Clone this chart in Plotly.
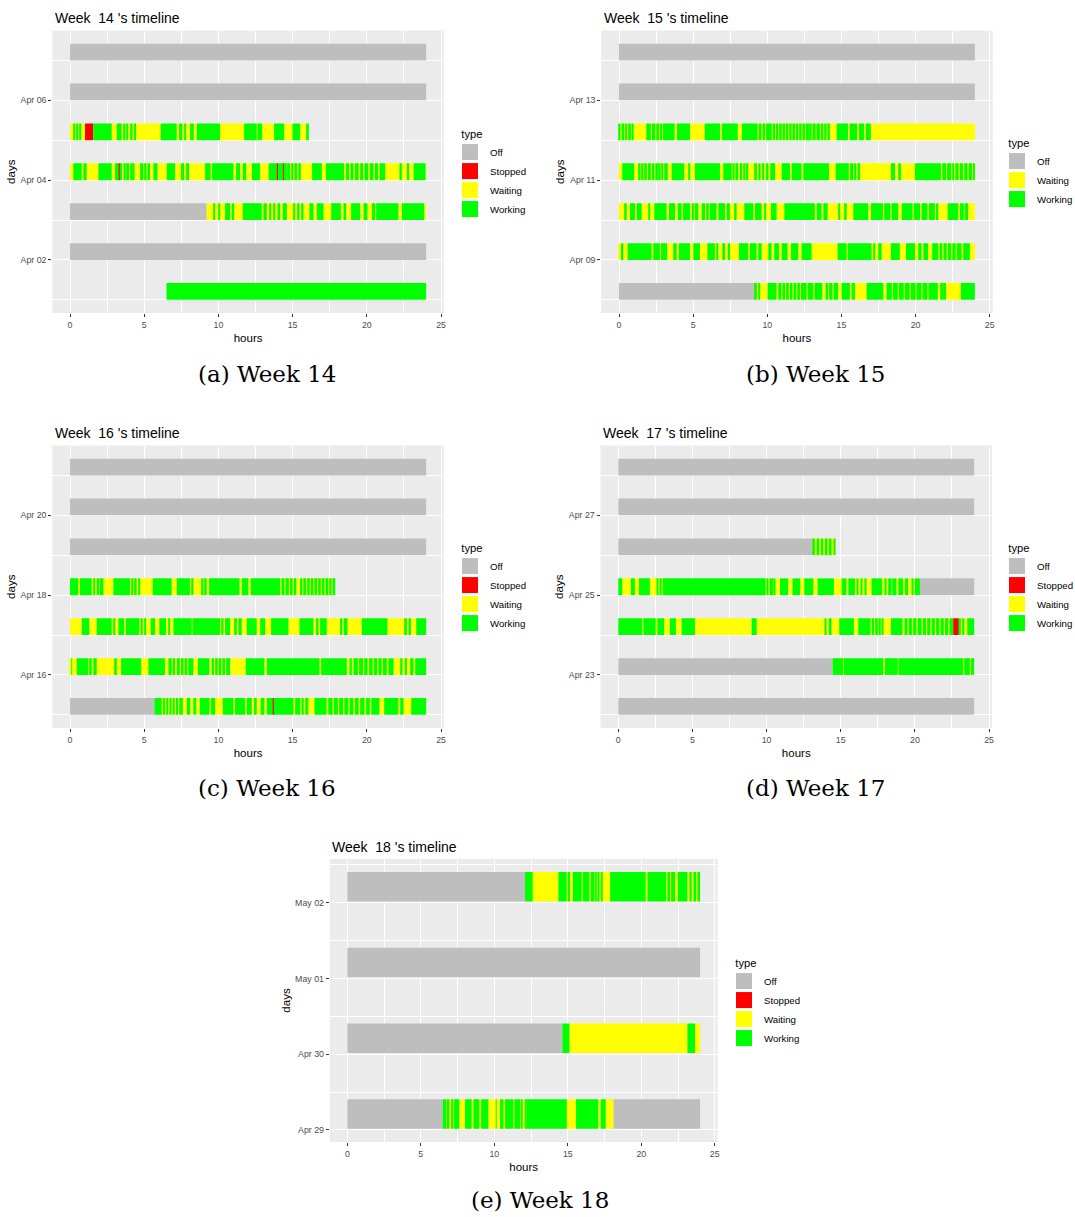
import plotly.graph_objects as go

# ---------------- data ----------------
# each day row: [start_hour, state, end_hour, state, end_hour, ...]
# state codes: O = Off, R = Stopped, Y = Waiting, G = Working
CODES = {"O": "Off", "R": "Stopped", "Y": "Waiting", "G": "Working"}
TYPES = ["Off", "Stopped", "Waiting", "Working"]

# Week 14
apr01 = [6.5, "G", 24]
apr02 = [0, "O", 24]
apr03 = [0, "O", 9.21, "Y", 9.66, "G", 9.78, "Y", 10.0, "G", 10.07, "Y", 10.45, "G", 10.79, "Y", 10.90,
         "G", 11.06, "Y", 11.64, "G", 12.92, "Y", 13.03, "G", 13.26, "Y", 13.44, "G", 13.55, "Y", 13.71,
         "G", 13.82, "Y", 13.98, "G", 14.16, "Y", 14.34, "G", 14.61, "Y", 15.06, "G", 15.17, "Y", 15.33,
         "G", 15.46, "Y", 15.62, "G", 15.73, "Y", 16.13, "G", 16.40, "Y", 16.63, "G", 17.08, "Y", 17.60,
         "G", 18.25, "Y", 18.43, "G", 18.61, "Y", 18.94, "G", 19.55, "Y", 19.78, "G", 20.04, "Y", 20.34,
         "G", 20.56, "Y", 20.63, "G", 22.13, "Y", 22.36, "G", 23.87, "Y", 24]
apr04 = [0, "Y", 0.22, "G", 0.79, "Y", 0.90, "G", 1.12, "Y", 1.91, "G", 2.81, "Y", 3.03, "G", 3.26,
         "R", 3.35, "G", 3.50, "Y", 3.60, "G", 3.75, "Y", 3.85, "G", 3.98, "Y", 4.06, "G", 4.15,
         "Y", 4.22, "G", 4.35, "Y", 4.72, "G", 4.94, "Y", 5.02, "G", 5.15, "Y", 5.22, "G", 5.39,
         "Y", 5.62, "G", 5.89, "Y", 6.52, "G", 7.08, "Y", 7.48, "G", 7.69, "Y", 7.82, "G", 8.02,
         "Y", 9.10, "G", 9.48, "Y", 9.57, "G", 11.01, "Y", 11.19, "G", 11.46, "Y", 11.64, "G", 11.87,
         "Y", 12.25, "G", 12.81, "Y", 13.39, "G", 13.93, "R", 14.02, "G", 14.34, "R", 14.40, "G", 14.61,
         "Y", 14.70, "G", 14.83, "Y", 14.92, "G", 15.05, "Y", 15.12, "G", 15.30, "Y", 15.38, "G", 15.55,
         "Y", 16.31, "G", 16.97, "Y", 17.24, "G", 18.47, "Y", 18.60, "G", 18.80, "Y", 18.90, "G", 19.10,
         "Y", 19.20, "G", 19.45, "Y", 19.55, "G", 19.75, "Y", 19.85, "G", 20.10, "Y", 20.20, "G", 20.45,
         "Y", 20.55, "G", 20.75, "Y", 20.85, "G", 21.24, "Y", 22.20, "G", 22.36, "Y", 22.70, "G", 22.85,
         "Y", 23.15, "G", 23.96, "Y", 24]
apr05 = [0, "Y", 0.22, "G", 0.31, "Y", 0.45, "G", 0.56, "Y", 0.67, "G", 0.76, "Y", 1.01, "R", 1.57,
         "G", 2.81, "Y", 3.15, "G", 3.48, "Y", 3.60, "G", 3.73, "Y", 3.82, "G", 3.93, "Y", 4.09,
         "G", 4.22, "Y", 4.31, "G", 4.45, "Y", 6.11, "G", 7.19, "Y", 7.35, "G", 7.57, "Y", 7.75,
         "G", 7.82, "Y", 8.09, "G", 8.34, "Y", 8.54, "G", 10.11, "Y", 11.73, "G", 12.58, "Y", 12.63,
         "G", 12.94, "Y", 13.75, "G", 14.43, "Y", 14.99, "G", 15.51, "Y", 15.96, "G", 16.09]
apr06 = [0, "O", 24]
apr07 = [0, "O", 24]

# Week 15
apr08 = [0, "O", 9.17, "G", 9.30, "Y", 9.40, "G", 9.50, "Y", 10.02, "G", 10.63, "Y", 10.74, "G", 10.95,
         "Y", 11.02, "G", 11.20, "Y", 11.27, "G", 11.45, "Y", 11.52, "G", 11.70, "Y", 11.77, "G", 11.95,
         "Y", 12.02, "G", 12.20, "Y", 12.27, "G", 12.65, "Y", 12.72, "G", 13.10, "Y", 13.18, "G", 13.71,
         "Y", 13.93, "G", 14.10, "Y", 14.17, "G", 14.40, "Y", 14.47, "G", 14.78, "Y", 15.01, "G", 15.57,
         "Y", 15.68, "G", 15.91, "Y", 16.70, "G", 17.82, "Y", 18.04, "G", 18.40, "Y", 18.47, "G", 18.80,
         "Y", 18.87, "G", 19.20, "Y", 19.27, "G", 19.60, "Y", 19.67, "G", 20.00, "Y", 20.07, "G", 20.40,
         "Y", 20.47, "G", 20.80, "Y", 20.87, "G", 21.50, "Y", 21.72, "G", 21.85, "Y", 21.92, "G", 22.05,
         "Y", 23.05, "G", 24]
apr09 = [0, "Y", 0.13, "G", 0.29, "Y", 0.58, "G", 2.20, "Y", 2.31, "G", 2.76, "Y", 2.83, "G", 3.24,
         "Y", 3.66, "G", 3.89, "Y", 4.04, "G", 4.79, "Y", 5.01, "G", 5.46, "Y", 5.96, "G", 6.47,
         "Y", 6.58, "G", 6.70, "Y", 6.97, "G", 7.15, "Y", 7.33, "G", 7.48, "Y", 8.09, "G", 8.72,
         "Y", 8.83, "G", 9.28, "Y", 9.39, "G", 9.62, "Y", 10.07, "G", 10.29, "Y", 10.47, "G", 10.79,
         "Y", 10.97, "G", 11.37, "Y", 11.60, "G", 12.09, "Y", 12.31, "G", 12.99, "Y", 14.74, "G", 15.35,
         "Y", 15.42, "G", 17.03, "Y", 17.15, "G", 17.26, "Y", 17.48, "G", 17.71, "Y", 18.34, "G", 18.94,
         "Y", 19.35, "G", 19.96, "Y", 20.18, "G", 20.40, "Y", 20.52, "G", 20.85, "Y", 21.12, "G", 21.53,
         "Y", 21.62, "G", 21.80, "Y", 21.88, "G", 22.10, "Y", 22.18, "G", 22.40, "Y", 22.48, "G", 22.70,
         "Y", 22.78, "G", 23.10, "Y", 23.21, "G", 23.66, "Y", 24]
apr10 = [0, "Y", 0.40, "G", 0.52, "Y", 0.74, "G", 1.08, "Y", 1.19, "G", 1.53, "Y", 1.98, "G", 2.09,
         "Y", 2.38, "G", 3.21, "Y", 3.37, "G", 3.78, "Y", 3.96, "G", 4.22, "Y", 4.31, "G", 4.79,
         "Y", 4.90, "G", 5.05, "Y", 5.12, "G", 5.35, "Y", 5.57, "G", 5.80, "Y", 5.88, "G", 6.05,
         "Y", 6.12, "G", 6.58, "Y", 6.70, "G", 7.15, "Y", 7.26, "G", 7.48, "Y", 7.82, "G", 7.93,
         "Y", 8.45, "G", 9.06, "Y", 9.17, "G", 9.62, "Y", 9.80, "G", 9.89, "Y", 10.25, "G", 10.63,
         "Y", 11.15, "G", 13.21, "Y", 13.33, "G", 13.66, "Y", 13.78, "G", 14.07, "Y", 14.79, "G", 14.90,
         "Y", 15.24, "G", 15.35, "Y", 15.80, "G", 16.81, "Y", 16.99, "G", 17.80, "Y", 17.88, "G", 18.30,
         "Y", 18.38, "G", 18.83, "Y", 19.06, "G", 19.80, "Y", 19.88, "G", 20.30, "Y", 20.40, "G", 20.80,
         "Y", 20.90, "G", 21.30, "Y", 21.38, "G", 21.53, "Y", 22.16, "G", 22.88, "Y", 22.99, "G", 23.25,
         "Y", 23.32, "G", 23.55, "Y", 24]
apr11 = [0, "Y", 0.22, "G", 1.03, "Y", 1.35, "G", 1.45, "Y", 1.55, "G", 1.65, "Y", 1.75, "G", 1.88,
         "Y", 1.95, "G", 2.15, "Y", 2.22, "G", 2.38, "Y", 2.45, "G", 2.62, "Y", 2.68, "G", 2.80,
         "Y", 2.86, "G", 2.98, "Y", 3.05, "G", 3.29, "Y", 3.55, "G", 4.40, "Y", 4.67, "G", 4.79,
         "Y", 5.12, "G", 6.81, "Y", 7.03, "G", 7.60, "Y", 7.66, "G", 7.80, "Y", 7.86, "G", 8.04,
         "Y", 8.15, "G", 8.30, "Y", 8.38, "G", 8.50, "Y", 8.56, "G", 8.72, "Y", 9.17, "G", 9.30,
         "Y", 9.40, "G", 9.55, "Y", 9.65, "G", 9.80, "Y", 9.92, "G", 10.08, "Y", 10.20, "G", 10.52,
         "Y", 10.97, "G", 11.53, "Y", 11.64, "G", 12.31, "Y", 12.43, "G", 14.16, "Y", 14.61, "G", 15.50,
         "Y", 15.58, "G", 15.80, "Y", 15.88, "G", 16.00, "Y", 16.08, "G", 16.25, "Y", 18.34, "G", 18.61,
         "Y", 18.83, "G", 19.01, "Y", 19.96, "G", 21.71, "Y", 21.80, "G", 22.05, "Y", 22.12, "G", 22.40,
         "Y", 22.48, "G", 22.60, "Y", 22.68, "G", 22.90, "Y", 22.98, "G", 23.20, "Y", 23.28, "G", 23.50,
         "Y", 23.58, "G", 23.80, "Y", 23.86, "G", 24]
apr12 = [0, "G", 0.10, "Y", 0.18, "G", 0.35, "Y", 0.42, "G", 0.55, "Y", 0.62, "G", 0.80, "Y", 0.85,
         "G", 0.99, "Y", 1.84, "G", 2.15, "Y", 2.22, "G", 2.45, "Y", 2.52, "G", 2.70, "Y", 2.76,
         "G", 2.90, "Y", 2.96, "G", 3.75, "Y", 3.91, "G", 4.79, "Y", 5.78, "G", 6.81, "Y", 6.93,
         "G", 8.01, "Y", 8.28, "G", 9.35, "Y", 9.42, "G", 9.60, "Y", 9.68, "G", 9.85, "Y", 9.92,
         "G", 10.30, "Y", 10.37, "G", 10.52, "Y", 10.58, "G", 10.74, "Y", 10.80, "G", 10.97, "Y", 11.03,
         "G", 11.19, "Y", 11.25, "G", 11.42, "Y", 11.48, "G", 11.64, "Y", 11.70, "G", 11.87, "Y", 11.93,
         "G", 12.09, "Y", 12.15, "G", 12.31, "Y", 12.37, "G", 12.54, "Y", 12.60, "G", 12.81, "Y", 12.87,
         "G", 12.99, "Y", 13.05, "G", 13.26, "Y", 13.32, "G", 13.55, "Y", 13.61, "G", 13.78, "Y", 13.84,
         "G", 14.00, "Y", 14.06, "G", 14.22, "Y", 14.68, "G", 15.44, "Y", 15.55, "G", 16.06, "Y", 16.18,
         "G", 16.52, "Y", 16.64, "G", 16.98, "Y", 24]
apr13 = [0, "O", 24]
apr14 = [0, "O", 24]

# Week 16
apr15 = [0, "O", 5.69, "G", 6.18, "Y", 6.26, "G", 6.40, "Y", 6.48, "G", 6.62, "Y", 6.70, "G", 6.84,
         "Y", 6.92, "G", 7.06, "Y", 7.14, "G", 7.28, "Y", 7.36, "G", 7.60, "Y", 7.87, "G", 8.10,
         "Y", 8.31, "G", 8.50, "Y", 8.74, "G", 9.40, "Y", 9.50, "G", 9.78, "Y", 10.29, "G", 11.01,
         "Y", 11.12, "G", 11.80, "Y", 11.91, "G", 12.25, "Y", 12.40, "G", 12.58, "Y", 12.85, "G", 13.10,
         "Y", 13.26, "G", 13.64, "R", 13.73, "G", 15.06, "Y", 15.17, "G", 15.51, "Y", 15.59, "G", 15.75,
         "Y", 15.85, "G", 16.06, "Y", 16.47, "G", 17.29, "Y", 17.40, "G", 17.70, "Y", 17.78, "G", 18.05,
         "Y", 18.13, "G", 18.40, "Y", 18.48, "G", 18.75, "Y", 18.83, "G", 19.10, "Y", 19.20, "G", 19.45,
         "Y", 19.55, "G", 19.85, "Y", 19.95, "G", 20.20, "Y", 20.30, "G", 20.85, "Y", 21.17, "G", 22.13,
         "Y", 22.25, "G", 22.47, "Y", 22.99, "G", 24]
apr16 = [0, "Y", 0.08, "G", 0.14, "Y", 0.45, "G", 1.24, "Y", 1.35, "G", 1.46, "Y", 1.57, "G", 1.80,
         "Y", 3.03, "G", 3.15, "Y", 3.44, "G", 4.79, "Y", 5.28, "G", 6.40, "Y", 6.63, "G", 6.85,
         "Y", 6.92, "G", 7.08, "Y", 7.20, "G", 7.40, "Y", 7.48, "G", 7.65, "Y", 7.72, "G", 7.90,
         "Y", 7.97, "G", 8.31, "Y", 8.61, "G", 9.39, "Y", 9.55, "G", 9.70, "Y", 9.78, "G", 9.95,
         "Y", 10.02, "G", 10.20, "Y", 10.27, "G", 10.45, "Y", 10.52, "G", 10.79, "Y", 11.84, "G", 13.10,
         "Y", 13.26, "G", 16.81, "Y", 16.92, "G", 18.65, "Y", 18.83, "G", 18.99, "Y", 19.10, "G", 19.40,
         "Y", 19.47, "G", 19.75, "Y", 19.82, "G", 20.05, "Y", 20.15, "G", 20.40, "Y", 20.47, "G", 20.70,
         "Y", 20.78, "G", 21.00, "Y", 21.08, "G", 21.35, "Y", 21.45, "G", 21.80, "Y", 22.25, "G", 22.40,
         "Y", 22.56, "G", 22.70, "Y", 22.92, "G", 23.14, "Y", 23.26, "G", 24]
apr17 = [0, "Y", 0.79, "G", 1.30, "Y", 1.80, "G", 2.81, "Y", 2.92, "G", 3.03, "Y", 3.26, "G", 3.64,
         "Y", 3.75, "G", 4.67, "Y", 4.76, "G", 4.90, "Y", 5.06, "G", 5.12, "Y", 5.44, "G", 5.73,
         "Y", 6.02, "G", 6.47, "Y", 6.63, "G", 6.74, "Y", 6.97, "G", 8.20, "Y", 8.25, "G", 10.11,
         "Y", 10.22, "G", 10.34, "Y", 10.45, "G", 10.79, "Y", 11.06, "G", 11.24, "Y", 11.35, "G", 11.57,
         "Y", 11.91, "G", 12.58, "Y", 12.81, "G", 13.15, "Y", 13.55, "G", 14.72, "Y", 15.46, "G", 16.40,
         "Y", 16.58, "G", 16.74, "Y", 16.85, "G", 17.30, "Y", 18.20, "G", 18.35, "Y", 18.45, "G", 18.70,
         "Y", 19.66, "G", 21.39, "Y", 22.58, "G", 22.70, "Y", 22.81, "G", 22.97, "Y", 23.33, "G", 24]
apr18 = [0, "G", 0.56, "Y", 0.67, "G", 1.46, "Y", 1.57, "G", 1.69, "Y", 1.80, "G", 1.98, "Y", 2.02,
         "G", 2.25, "Y", 2.92, "G", 4.04, "Y", 4.16, "G", 4.27, "Y", 4.38, "G", 4.49, "Y", 4.61,
         "G", 4.72, "Y", 5.57, "G", 6.85, "Y", 7.19, "G", 8.09, "Y", 8.20, "G", 8.31, "Y", 8.88,
         "G", 8.99, "Y", 9.10, "G", 9.21, "Y", 9.37, "G", 11.42, "Y", 11.57, "G", 12.02, "Y", 12.18,
         "G", 14.16, "Y", 14.25, "G", 14.45, "Y", 14.52, "G", 14.75, "Y", 14.82, "G", 15.00, "Y", 15.08,
         "G", 15.25, "Y", 15.50, "G", 15.65, "Y", 15.72, "G", 15.90, "Y", 15.98, "G", 16.15, "Y", 16.22,
         "G", 16.40, "Y", 16.47, "G", 16.65, "Y", 16.72, "G", 16.90, "Y", 16.97, "G", 17.15, "Y", 17.22,
         "G", 17.40, "Y", 17.47, "G", 17.62, "Y", 17.69, "G", 17.87]
apr19 = [0, "O", 24]
apr20 = [0, "O", 24]
apr21 = [0, "O", 24]

# Week 17
apr22 = [0, "O", 24]
apr23 = [0, "O", 14.45, "G", 15.17, "Y", 15.22, "G", 17.87, "Y", 17.98, "G", 18.85, "Y", 18.90,
         "G", 23.26, "Y", 23.33, "G", 23.71, "Y", 23.78, "G", 24]
apr24 = [0, "G", 1.61, "Y", 1.69, "G", 2.52, "Y", 2.63, "G", 3.10, "Y", 3.48, "G", 3.89, "Y", 4.27,
         "G", 5.17, "Y", 8.99, "G", 9.33, "Y", 13.93, "G", 14.04, "Y", 14.20, "G", 14.38, "Y", 14.90,
         "G", 15.89, "Y", 16.18, "G", 17.01, "Y", 17.09, "G", 17.25, "Y", 17.32, "G", 17.50, "Y", 17.57,
         "G", 17.70, "Y", 17.76, "G", 17.87, "Y", 18.38, "G", 19.17, "Y", 19.30, "G", 19.50, "Y", 19.58,
         "G", 19.80, "Y", 19.88, "G", 20.10, "Y", 20.18, "G", 20.45, "Y", 20.53, "G", 20.75, "Y", 20.83,
         "G", 21.05, "Y", 21.13, "G", 21.35, "Y", 21.43, "G", 21.65, "Y", 21.73, "G", 21.95, "Y", 22.03,
         "G", 22.25, "Y", 22.33, "G", 22.58, "R", 22.97, "G", 23.10, "Y", 23.19, "G", 23.33, "Y", 23.53,
         "G", 24]
apr25 = [0, "G", 0.27, "Y", 0.85, "G", 1.12, "Y", 1.39, "G", 2.13, "Y", 2.58, "G", 2.70, "Y", 2.81,
         "G", 2.92, "Y", 2.99, "G", 9.93, "Y", 10.04, "G", 10.11, "Y", 10.20, "G", 10.45, "Y", 10.52,
         "G", 10.60, "Y", 10.90, "G", 11.46, "Y", 11.75, "G", 12.27, "Y", 12.54, "G", 13.15, "Y", 13.44,
         "G", 14.54, "Y", 15.06, "G", 15.39, "Y", 15.51, "G", 15.96, "Y", 16.07, "G", 16.18, "Y", 16.36,
         "G", 16.45, "Y", 16.63, "G", 16.74, "Y", 17.08, "G", 17.80, "Y", 17.98, "G", 18.09, "Y", 18.20,
         "G", 18.43, "Y", 18.47, "G", 18.76, "Y", 18.88, "G", 19.21, "Y", 19.33, "G", 19.55, "Y", 19.78,
         "G", 19.89, "Y", 20.00, "G", 20.34, "O", 24]
apr26 = [0, "O", 13.08, "G", 13.26, "Y", 13.37, "G", 13.55, "Y", 13.66, "G", 13.82, "Y", 13.93,
         "G", 14.11, "Y", 14.20, "G", 14.38, "Y", 14.56, "G", 14.65]
apr27 = [0, "O", 24]
apr28 = [0, "O", 24]

# Week 18
apr29 = [0, "O", 6.49, "G", 6.72, "Y", 6.81, "G", 6.94, "Y", 7.06, "G", 7.21, "Y", 7.26, "G", 7.62,
         "Y", 8.01, "G", 8.46, "Y", 8.58, "G", 8.98, "Y", 9.10, "G", 9.60, "Y", 10.10, "G", 10.16,
         "Y", 10.39, "G", 10.62, "Y", 10.73, "G", 11.30, "Y", 11.37, "G", 11.75, "Y", 11.86, "G", 11.93,
         "Y", 12.09, "G", 12.14, "Y", 12.20, "G", 14.93, "Y", 15.56, "G", 17.08, "Y", 17.24, "G", 17.58,
         "Y", 18.10, "O", 24]
apr30 = [0, "O", 14.63, "G", 15.11, "Y", 23.14, "G", 23.66, "Y", 24]
may01 = [0, "O", 24]
may02 = [0, "O", 12.09, "G", 12.61, "Y", 14.36, "G", 14.93, "Y", 15.00, "G", 15.15, "Y", 15.34,
         "G", 15.95, "Y", 16.02, "G", 16.47, "Y", 16.56, "G", 16.79, "Y", 16.86, "G", 16.97, "Y", 17.01,
         "G", 17.15, "Y", 17.24, "G", 17.31, "Y", 17.88, "G", 20.30, "Y", 20.42, "G", 21.69, "Y", 21.78,
         "G", 21.96, "Y", 22.03, "G", 22.30, "Y", 22.48, "G", 23.14, "Y", 23.28, "G", 23.43, "Y", 23.55,
         "G", 23.73, "Y", 23.82, "G", 24]

week14_days = ["Apr 01", "Apr 02", "Apr 03", "Apr 04", "Apr 05", "Apr 06", "Apr 07"]
week14_rows = [apr01, apr02, apr03, apr04, apr05, apr06, apr07]
week14_ticks = ["Apr 02", "Apr 04", "Apr 06"]
week14_legend = ["Off", "Stopped", "Waiting", "Working"]

week15_days = ["Apr 08", "Apr 09", "Apr 10", "Apr 11", "Apr 12", "Apr 13", "Apr 14"]
week15_rows = [apr08, apr09, apr10, apr11, apr12, apr13, apr14]
week15_ticks = ["Apr 09", "Apr 11", "Apr 13"]
week15_legend = ["Off", "Waiting", "Working"]

week16_days = ["Apr 15", "Apr 16", "Apr 17", "Apr 18", "Apr 19", "Apr 20", "Apr 21"]
week16_rows = [apr15, apr16, apr17, apr18, apr19, apr20, apr21]
week16_ticks = ["Apr 16", "Apr 18", "Apr 20"]
week16_legend = ["Off", "Stopped", "Waiting", "Working"]

week17_days = ["Apr 22", "Apr 23", "Apr 24", "Apr 25", "Apr 26", "Apr 27", "Apr 28"]
week17_rows = [apr22, apr23, apr24, apr25, apr26, apr27, apr28]
week17_ticks = ["Apr 23", "Apr 25", "Apr 27"]
week17_legend = ["Off", "Stopped", "Waiting", "Working"]

week18_days = ["Apr 29", "Apr 30", "May 01", "May 02"]
week18_rows = [apr29, apr30, may01, may02]
week18_ticks = ["Apr 29", "Apr 30", "May 01", "May 02"]
week18_legend = ["Off", "Stopped", "Waiting", "Working"]

x_ticks = [0, 5, 10, 15, 20, 25]

# ---------------- style / layout ----------------
W, H = 1075, 1217
COLORS = {"Off": "#BEBEBE", "Stopped": "#FF0000", "Waiting": "#FFFF00", "Working": "#00FF00"}
SANS = "Liberation Sans, Arial, sans-serif"
SERIF = "DejaVu Serif, serif"
BAR_SHIFT = 0.21

PANELS = [
    dict(week="14", days=week14_days, rows=week14_rows, ticks=week14_ticks, legend=week14_legend,
         caption="(a) Week 14", box=(52.2, 444.0, 30.5, 313.0), yr=(-0.33, 6.75), bw=0.42,
         leg=(450, 123), cap=(267, 374), minor_y="days"),
    dict(week="15", days=week15_days, rows=week15_rows, ticks=week15_ticks, legend=week15_legend,
         caption="(b) Week 15", box=(601.2, 992.7, 30.5, 313.0), yr=(-0.33, 6.75), bw=0.42,
         leg=(997, 132), cap=(815, 374), minor_y="days"),
    dict(week="16", days=week16_days, rows=week16_rows, ticks=week16_ticks, legend=week16_legend,
         caption="(c) Week 16", box=(52.2, 444.0, 445.5, 728.0), yr=(-0.33, 6.75), bw=0.42,
         leg=(450, 537), cap=(267, 788), minor_y="days"),
    dict(week="17", days=week17_days, rows=week17_rows, ticks=week17_ticks, legend=week17_legend,
         caption="(d) Week 17", box=(600.5, 992.0, 445.5, 728.0), yr=(-0.33, 6.75), bw=0.42,
         leg=(997, 537), cap=(815, 788), minor_y="days"),
    dict(week="18", days=week18_days, rows=week18_rows, ticks=week18_ticks, legend=week18_legend,
         caption="(e) Week 18", box=(329.7, 717.7, 859.0, 1142.0), yr=(-0.16, 3.577), bw=0.39,
         leg=(724, 952), cap=(540, 1200), minor_y="half"),
]


def segments(row):
    out = []
    t0 = row[0]
    for i in range(1, len(row) - 1, 2):
        code, t1 = row[i], row[i + 1]
        out.append((t0, t1, CODES[code]))
        t0 = t1
    return out


fig = go.Figure()
annotations = []
layout = {}

for k, p in enumerate(PANELS, start=1):
    xa = "x" if k == 1 else f"x{k}"
    ya = "y" if k == 1 else f"y{k}"
    leg = "legend" if k == 1 else f"legend{k}"

    per_type = {t: dict(y=[], base=[], x=[]) for t in TYPES}
    for di, row in enumerate(p["rows"]):
        for t0, t1, typ in segments(row):
            per_type[typ]["y"].append(di + BAR_SHIFT)
            per_type[typ]["base"].append(t0)
            per_type[typ]["x"].append(t1 - t0)

    for typ in TYPES:
        d = per_type[typ]
        if not d["y"]:
            continue
        fig.add_trace(go.Bar(
            x=d["x"], y=d["y"], base=d["base"], orientation="h", width=p["bw"],
            marker=dict(color=COLORS[typ], line=dict(width=0)),
            name=typ, showlegend=False, xaxis=xa, yaxis=ya, hoverinfo="skip"))

    for typ in p["legend"]:
        fig.add_trace(go.Scatter(
            x=[None], y=[None], mode="markers", name=typ, legend=leg,
            marker=dict(symbol="square", size=16, color=COLORS[typ], line=dict(width=0)),
            xaxis=xa, yaxis=ya, showlegend=True))

    x0, x1, y0, y1 = p["box"]
    dom_x = [x0 / W, x1 / W]
    dom_y = [1 - y1 / H, 1 - y0 / H]

    n = len(p["days"])
    tickvals = [p["days"].index(t) for t in p["ticks"]]
    if p["minor_y"] == "days":
        minor_y = [i for i in range(n) if i not in tickvals]
    else:
        minor_y = [i + 0.5 for i in range(-1, n)]

    layout["xaxis" if k == 1 else f"xaxis{k}"] = dict(
        domain=dom_x, anchor=ya, range=[-1.2, 25.2], tickmode="array", tickvals=x_ticks,
        ticktext=[str(v) for v in x_ticks], ticks="outside", ticklen=3, tickwidth=1,
        tickcolor="#333333", tickfont=dict(family=SANS, size=8.8, color="#4D4D4D"),
        showgrid=True, gridcolor="white", gridwidth=1.1, zeroline=False, showline=False,
        minor=dict(tickmode="array", tickvals=[2.5, 7.5, 12.5, 17.5, 22.5], showgrid=True,
                   gridcolor="white", gridwidth=0.55, ticks=""),
        title=dict(text="hours", font=dict(family=SANS, size=11.5, color="black"), standoff=5),
        fixedrange=True)
    layout["yaxis" if k == 1 else f"yaxis{k}"] = dict(
        domain=dom_y, anchor=xa, range=list(p["yr"]), tickmode="array", tickvals=tickvals,
        ticktext=p["ticks"], ticks="outside", ticklen=3, tickwidth=1, tickcolor="#333333",
        tickfont=dict(family=SANS, size=8.8, color="#4D4D4D"),
        showgrid=True, gridcolor="white", gridwidth=1.1, zeroline=False, showline=False,
        minor=dict(tickmode="array", tickvals=minor_y, showgrid=True, gridcolor="white",
                   gridwidth=0.55, ticks=""),
        title=dict(text="days", font=dict(family=SANS, size=11.5, color="black"), standoff=2),
        fixedrange=True)

    lx, ly = p["leg"]
    layout[leg] = dict(
        x=lx / W, y=1 - ly / H, xanchor="left", yanchor="top", orientation="v",
        bgcolor="rgba(0,0,0,0)", borderwidth=0, itemclick=False, itemdoubleclick=False,
        font=dict(family=SANS, size=9.7, color="black"),
        title=dict(text="&nbsp;&nbsp;&nbsp;type", font=dict(family=SANS, size=11.2, color="black")),
        tracegroupgap=0)

    annotations.append(dict(
        text=f"Week  {p['week']} 's timeline", xref="paper", yref="paper",
        x=(x0 + 0.5) / W, y=1 - (y0 - 12.5) / H, xanchor="left", yanchor="middle",
        showarrow=False, font=dict(family=SANS, size=14, color="black")))
    cx, cy = p["cap"]
    annotations.append(dict(
        text=p["caption"], xref="paper", yref="paper", x=cx / W, y=1 - cy / H,
        xanchor="center", yanchor="middle", showarrow=False,
        font=dict(family=SERIF, size=23, color="black")))

fig.update_layout(
    width=W, height=H, margin=dict(l=0, r=0, t=0, b=0, autoexpand=False),
    paper_bgcolor="white", plot_bgcolor="#EBEBEB", barmode="overlay",
    showlegend=True, annotations=annotations, font=dict(family=SANS), **layout)

fig.write_html("out.html", config={"displayModeBar": False},
               post_script="document.body.style.margin='0px';document.body.style.overflow='hidden';")
